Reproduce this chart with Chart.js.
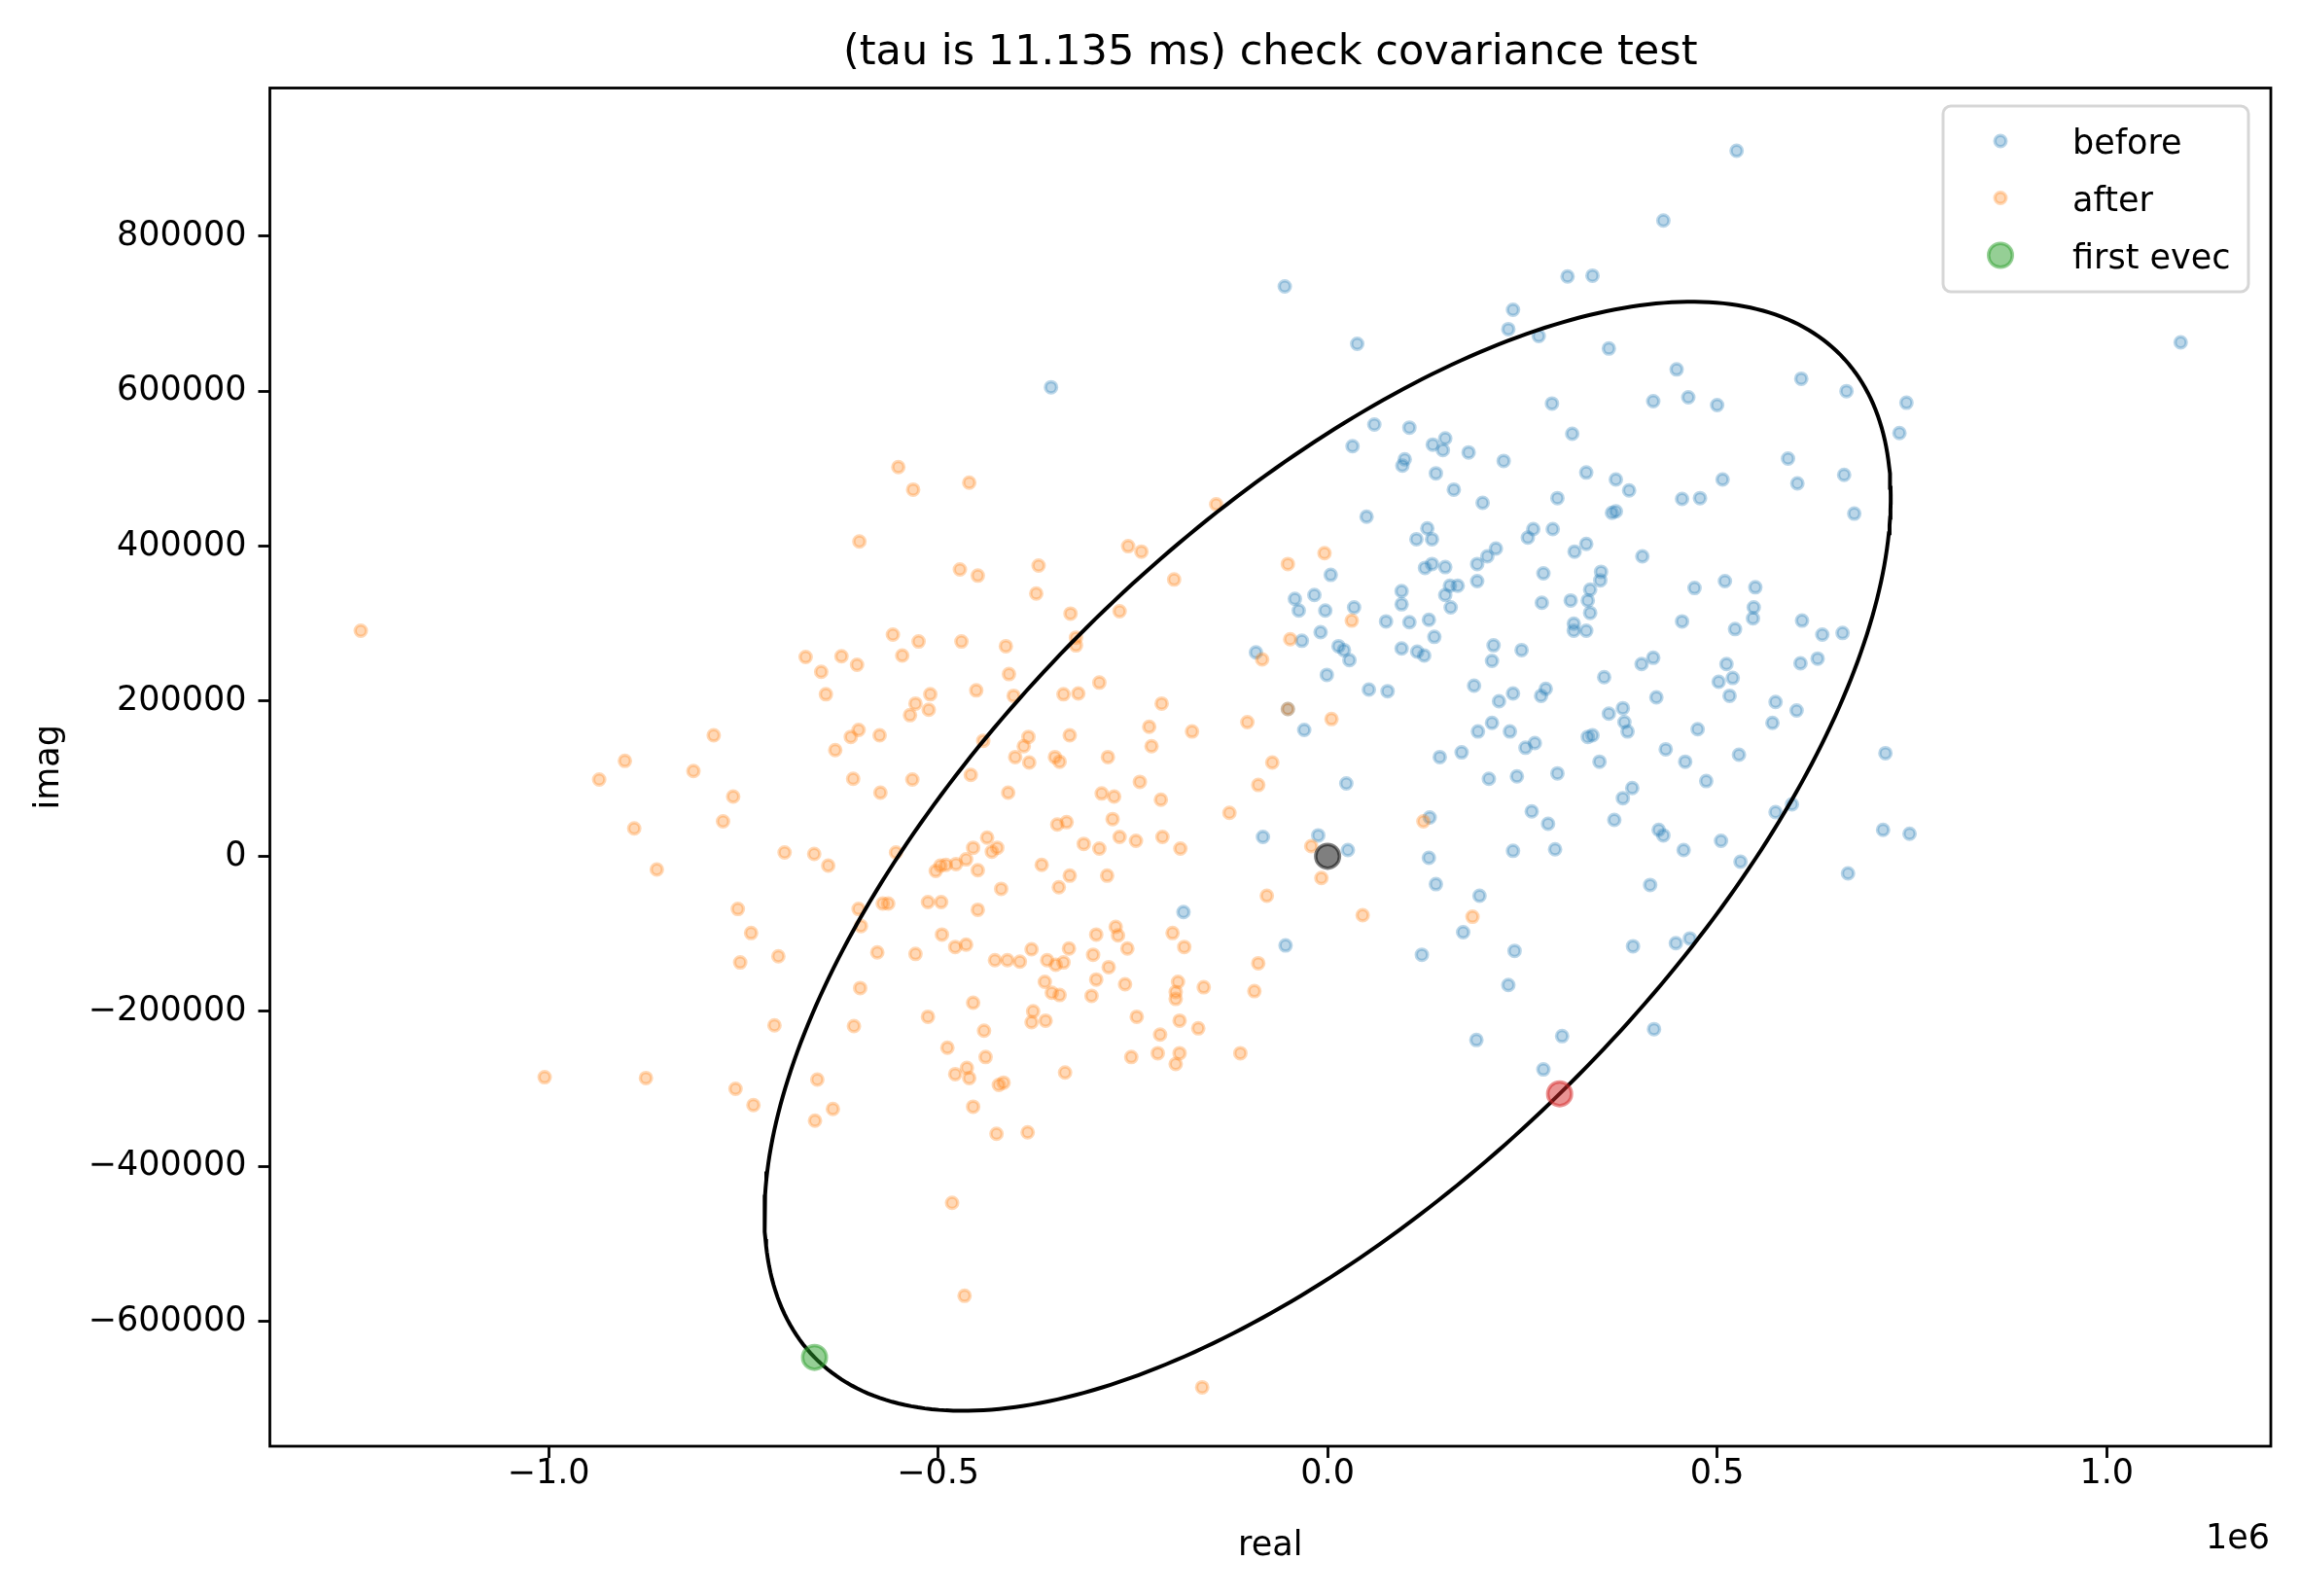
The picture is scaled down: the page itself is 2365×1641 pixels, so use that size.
<!DOCTYPE html>
<html><head><meta charset="utf-8">
<script src="https://cdn.jsdelivr.net/npm/chart.js@4/dist/chart.umd.min.js"></script>
<style>html,body{margin:0;padding:0;background:#fff;}canvas{display:block;}</style>
</head><body>
<canvas id="c" width="2365" height="1641"></canvas>
<script>
// ---- data (x, y) ----
const beforePts = [
[-55000,735000],[-355000,605000],[38000,661000],[308000,748000],[340000,749000],[238000,705000],[232000,680000],[271000,671000],[288000,584000],[314000,545000],[60000,557000],[105000,553000],[32000,529000],[135000,531000],[151000,539000],[148000,524000],[181000,521000],
[525000,910000],[431000,820000],[1095000,663000],[361000,655000],[448000,628000],[608000,616000],[666000,600000],[743000,585000],[418000,587000],[463000,592000],[500000,582000],[734000,546000],
[591000,513000],[663000,492000],[603000,481000],[676000,442000],[370000,486000],[387000,472000],[507000,486000],[455000,461000],[478000,462000],[365000,443000],[370000,445000],[404000,387000],[351000,367000],[350000,356000],[471000,346000],[510000,355000],[549000,347000],[547000,321000],[546000,307000],[455000,303000],[523000,293000],[609000,304000],[635000,286000],[661000,288000],[418000,256000],[403000,248000],[512000,248000],[607000,249000],[629000,255000],[355000,231000],[502000,225000],[520000,230000],[516000,207000],[422000,205000],[575000,199000],[602000,188000],[379000,191000],[361000,184000],[381000,173000],[385000,161000],[475000,164000],[571000,172000],[434000,138000],[459000,122000],[528000,131000],[716000,133000],[349000,122000],
[486000,97000],[391000,88000],[379000,75000],[368000,47000],[425000,34000],[431000,27000],[457000,8000],[505000,20000],[530000,-7000],[575000,57000],[596000,67000],[713000,34000],[747000,29000],[668000,-22000],[414000,-37000],[392000,-116000],[447000,-112000],[465000,-106000],[419000,-223000],
[99000,512000],[96000,504000],[226000,510000],[139000,494000],[332000,495000],[162000,473000],[199000,456000],[295000,462000],[50000,438000],[128000,423000],[114000,409000],[134000,409000],[264000,422000],[289000,422000],[257000,411000],[216000,397000],[205000,387000],[192000,377000],[332000,403000],[317000,393000],[134000,377000],[125000,372000],[151000,373000],[4000,363000],[192000,355000],[277000,365000],[95000,342000],[157000,349000],[167000,349000],[151000,337000],[-42000,332000],[-17000,337000],[-37000,317000],[-3000,317000],[34000,321000],[95000,325000],[158000,321000],[275000,327000],[312000,330000],[334000,330000],[337000,344000],[337000,314000],[75000,303000],[105000,302000],[130000,305000],[-9000,289000],[-33000,278000],[14000,271000],[21000,266000],[28000,253000],[-92000,263000],[95000,268000],[115000,264000],[124000,259000],[137000,283000],[213000,272000],[211000,252000],[249000,266000],[316000,300000],[316000,291000],[332000,291000],[-1000,234000],[53000,215000],[77000,213000],[188000,220000],[220000,200000],[238000,210000],[274000,207000],[280000,216000],[-51000,190000],[-30000,163000],[193000,161000],[211000,172000],[234000,161000],[144000,128000],[172000,134000],[254000,140000],[266000,146000],[334000,154000],[340000,156000],
[24000,94000],[207000,100000],[243000,103000],[295000,107000],[131000,50000],[262000,58000],[283000,42000],[-83000,25000],[-12000,27000],[26000,8000],[130000,-2000],[238000,7000],[292000,9000],[139000,-36000],[195000,-51000],[-185000,-72000],[174000,-98000],[-54000,-115000],[121000,-127000],[240000,-122000],[232000,-166000],[191000,-237000],[301000,-232000],[277000,-275000]
];
const afterPts = [
[-551000,502000],[-532000,473000],[-601000,406000],[-472000,370000],[-1241000,291000],[-558000,286000],[-525000,277000],[-470000,277000],[-546000,259000],[-670000,257000],[-624000,258000],[-604000,247000],[-650000,238000],[-644000,209000],[-510000,209000],[-529000,197000],[-512000,189000],[-536000,182000],[-602000,163000],[-612000,154000],[-575000,156000],[-632000,137000],[-788000,156000],[-902000,123000],
[-814000,110000],[-935000,99000],[-609000,100000],[-533000,99000],[-763000,77000],[-574000,82000],[-890000,36000],[-776000,45000],[-861000,-17000],[-697000,5000],[-659000,3000],[-641000,-12000],[-554000,5000],[-503000,-19000],[-497000,-12000],[-490000,-11000],[-477000,-10000],[-757000,-68000],[-740000,-99000],[-754000,-137000],[-705000,-129000],[-602000,-68000],[-599000,-90000],[-571000,-61000],[-564000,-61000],[-513000,-59000],[-496000,-59000],[-495000,-101000],[-478000,-117000],[-578000,-124000],[-529000,-126000],[-600000,-170000],[-710000,-218000],[-608000,-219000],[-513000,-207000],[-488000,-247000],[-478000,-281000],[-1005000,-285000],[-875000,-286000],[-655000,-288000],
[-760000,-300000],[-737000,-321000],[-635000,-326000],[-658000,-341000],[-482000,-447000],
[-455000,-323000],[-425000,-358000],[-385000,-356000],[-466000,-567000],[-161000,-685000],
[-460000,482000],[-143000,454000],[-256000,400000],[-239000,393000],[-371000,375000],[-449000,362000],[-374000,339000],[-197000,357000],[-51000,377000],[-4000,391000],[-330000,313000],[-267000,316000],[-323000,282000],[-323000,272000],[-413000,271000],[-409000,235000],[-451000,214000],[-403000,207000],[-339000,209000],[-320000,210000],[-293000,224000],[-213000,197000],[31000,304000],[-48000,280000],[-84000,254000],[-51000,190000],[-103000,173000],[5000,177000],[-229000,167000],[-174000,161000],[-331000,156000],[-384000,154000],[-390000,142000],[-442000,149000],[-226000,142000],[-401000,128000],[-383000,121000],[-350000,128000],[-344000,122000],[-282000,128000],[-71000,121000],
[-458000,105000],[-410000,82000],[-290000,81000],[-274000,77000],[-241000,96000],[-214000,73000],[-89000,92000],[-126000,56000],[-276000,48000],[-347000,41000],[-335000,44000],[-437000,24000],[-455000,11000],[-431000,6000],[-424000,11000],[-464000,-4000],[-313000,16000],[-293000,10000],[-267000,25000],[-246000,20000],[-212000,25000],[-189000,10000],[-21000,13000],[-8000,-28000],[-78000,-51000],[45000,-76000],[123000,45000],[186000,-78000],[-449000,-18000],[-367000,-11000],[-419000,-42000],[-331000,-25000],[-345000,-40000],[-283000,-25000],[-449000,-69000],[-464000,-114000],[-427000,-134000],[-411000,-134000],[-395000,-136000],[-380000,-120000],[-360000,-134000],[-349000,-140000],[-339000,-137000],[-332000,-119000],[-301000,-127000],[-297000,-101000],[-272000,-91000],[-269000,-102000],[-257000,-119000],[-281000,-143000],[-199000,-99000],[-184000,-117000],[-89000,-138000],[-363000,-162000],[-354000,-176000],[-344000,-179000],[-297000,-159000],[-303000,-180000],[-260000,-165000],[-192000,-162000],[-195000,-175000],[-195000,-184000],[-159000,-169000],[-94000,-174000],[-455000,-189000],[-378000,-200000],[-380000,-214000],[-362000,-212000],[-245000,-207000],[-190000,-212000],[-166000,-222000],[-215000,-230000],[-441000,-225000],[-439000,-259000],[-252000,-259000],[-218000,-254000],[-190000,-254000],[-195000,-268000],[-112000,-254000],[-337000,-279000],[-463000,-273000],[-460000,-286000],[-422000,-295000],[-416000,-292000]
];
const centerPoint = [0, 0];
const firstEvecPoint = [-658600, -646400];
const secondEvecPoint = [297800, -306400];
const xTicks = [-1000000, -500000, 0, 500000, 1000000];
const yTicks = [-600000, -400000, -200000, 0, 200000, 400000, 600000, 800000];
const xRange = [-1357700, 1210700];
const yRange = [-761000, 991000];
const titleText = '(tau is 11.135 ms) check covariance test';
const xLabel = 'real';
const yLabel = 'imag';
const xOffsetText = '1e6';

// ---- build ----
const FONT = '"DejaVu Sans", "Liberation Sans", sans-serif';
Chart.defaults.font.family = FONT;
const toXY = arr => arr.map(p => ({x: p[0], y: p[1]}));
const ellipse = [];
for (let k = 0; k <= 360; k++) {
  const t = k * Math.PI / 180;
  ellipse.push({
    x: centerPoint[0] + Math.cos(t) * (firstEvecPoint[0] - centerPoint[0]) + Math.sin(t) * (secondEvecPoint[0] - centerPoint[0]),
    y: centerPoint[1] + Math.cos(t) * (firstEvecPoint[1] - centerPoint[1]) + Math.sin(t) * (secondEvecPoint[1] - centerPoint[1])
  });
}
const pstyle = (rgb, a, r) => ({
  backgroundColor: `rgba(${rgb},${a})`, borderColor: `rgba(${rgb},${a})`,
  pointRadius: r, pointHoverRadius: r, borderWidth: 3.5, pointBorderWidth: 3.5, pointHoverBorderWidth: 3.5,
  pointStyle: 'circle'
});
const SMALL = 5.75, BIG = 12.25;
const datasets = [
  Object.assign({label: 'before', data: toXY(beforePts), order: 5}, pstyle('31,119,180', 0.3, SMALL)),
  Object.assign({label: 'after', data: toXY(afterPts), order: 4}, pstyle('255,127,14', 0.3, SMALL)),
  {label: 'ellipse', data: ellipse, showLine: true, pointRadius: 0, pointHoverRadius: 0, borderColor: '#000', borderWidth: 4, fill: false, tension: 0, order: 3},
  Object.assign({label: 'center', data: toXY([centerPoint]), order: 2}, pstyle('0,0,0', 0.5, BIG)),
  Object.assign({label: 'second evec', data: toXY([secondEvecPoint]), order: 1}, pstyle('214,39,40', 0.5, BIG)),
  Object.assign({label: 'first evec', data: toXY([firstEvecPoint]), order: 0}, pstyle('44,160,44', 0.5, BIG))
];
const legendEntries = [0, 1, 5];

const fmtX = v => { const s = (Math.abs(v) / 1e6).toFixed(1); return v < 0 ? '\u2212' + s : s; };
const fmtY = v => v < 0 ? '\u2212' + Math.abs(v) : String(v);

const framePlugin = {
  id: 'frame',
  afterDatasetsDraw(chart) {
    const {ctx, chartArea: a} = chart;
    ctx.save();
    ctx.strokeStyle = '#000'; ctx.lineWidth = 2.8;
    ctx.strokeRect(a.left, a.top, a.right - a.left, a.bottom - a.top);
    ctx.restore();
  }
};
const extrasPlugin = {
  id: 'extras',
  afterDraw(chart) {
    const ctx = chart.ctx, a = chart.chartArea;
    ctx.save();
    // offset text
    ctx.fillStyle = '#000'; ctx.font = '35px ' + FONT;
    ctx.textAlign = 'right'; ctx.textBaseline = 'alphabetic';
    ctx.fillText(xOffsetText, a.right - 1, 1592);
    // legend
    const bx = 1998, by = 109, bw = 314, bh = 191, r = 8;
    ctx.beginPath();
    ctx.moveTo(bx + r, by); ctx.lineTo(bx + bw - r, by); ctx.arcTo(bx + bw, by, bx + bw, by + r, r);
    ctx.lineTo(bx + bw, by + bh - r); ctx.arcTo(bx + bw, by + bh, bx + bw - r, by + bh, r);
    ctx.lineTo(bx + r, by + bh); ctx.arcTo(bx, by + bh, bx, by + bh - r, r);
    ctx.lineTo(bx, by + r); ctx.arcTo(bx, by, bx + r, by, r); ctx.closePath();
    ctx.fillStyle = 'rgba(255,255,255,0.8)'; ctx.fill();
    ctx.lineWidth = 3; ctx.strokeStyle = 'rgba(204,204,204,0.8)'; ctx.stroke();
    const rows = [145, 203.5, 262.5];
    legendEntries.forEach((di, i) => {
      const ds = chart.data.datasets[di];
      const cy = rows[i];
      ctx.beginPath(); ctx.arc(2057, cy, ds.pointRadius, 0, Math.PI * 2);
      ctx.fillStyle = ds.backgroundColor; ctx.fill();
      ctx.lineWidth = ds.borderWidth; ctx.strokeStyle = ds.borderColor; ctx.stroke();
      ctx.fillStyle = '#000'; ctx.textAlign = 'left'; ctx.textBaseline = 'alphabetic';
      ctx.font = '35px ' + FONT;
      ctx.fillText(ds.label, 2131, cy + 13);
    });
    ctx.restore();
  }
};

new Chart(document.getElementById('c'), {
  type: 'scatter',
  data: {datasets},
  options: {
    responsive: false, animation: false, events: [],
    layout: {padding: {left: 0, right: 30, top: 0, bottom: 0}},
    plugins: {
      legend: {display: false}, tooltip: {enabled: false},
      title: {display: true, fullSize: false, text: titleText, color: '#000', font: {size: 43, weight: 'normal', family: FONT}, padding: {top: 29, bottom: 9.9}}
    },
    scales: {
      x: {
        type: 'linear', min: xRange[0], max: xRange[1],
        afterBuildTicks: s => { s.ticks = xTicks.map(v => ({value: v})); },
        afterFit: s => { s.height = 154; },
        ticks: {color: '#000', font: {size: 35, family: FONT}, padding: -4, maxRotation: 0, autoSkip: false, callback: v => fmtX(v)},
        grid: {display: true, drawOnChartArea: false, drawTicks: true, tickLength: 12, tickWidth: 2.8, tickColor: '#000'},
        border: {display: false},
        title: {display: true, text: xLabel, color: '#000', font: {size: 35, family: FONT}, padding: {top: 0, bottom: 30}}
      },
      y: {
        type: 'linear', min: yRange[0], max: yRange[1],
        afterBuildTicks: s => { s.ticks = yTicks.map(v => ({value: v})); },
        afterFit: s => { s.width = 277.5; },
        ticks: {color: '#000', font: {size: 35, family: FONT}, padding: 12, autoSkip: false, callback: v => fmtY(v)},
        grid: {display: true, drawOnChartArea: false, drawTicks: true, tickLength: 12, tickWidth: 2.8, tickColor: '#000'},
        border: {display: false},
        title: {display: true, text: yLabel, color: '#000', font: {size: 35, family: FONT}, padding: {top: 30, bottom: 0}}
      }
    }
  },
  plugins: [framePlugin, extrasPlugin]
});
</script>
</body></html>
